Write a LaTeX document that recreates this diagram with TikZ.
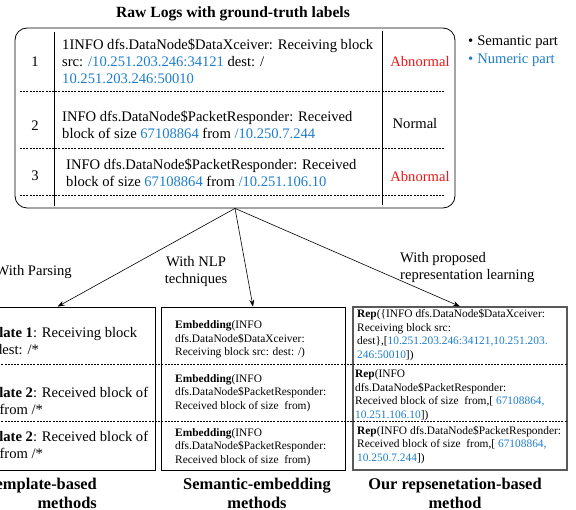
\documentclass[tikz,border=0pt]{standalone}
\usepackage{fontspec}
\setmainfont{Liberation Serif}
\usetikzlibrary{positioning,arrows.meta}
\definecolor{numblue}{RGB}{30,125,205}
\definecolor{labred}{RGB}{240,20,20}
\newcommand{\nm}[1]{\textcolor{numblue}{#1}}

\begin{document}
\begin{tikzpicture}[x=1pt,y=-1pt,
  logtxt/.style={align=left,inner sep=0pt,font=\fontsize{14.6}{17}\selectfont},
  smalltxt/.style={align=left,inner sep=0pt,font=\fontsize{11.4}{13.5}\selectfont},
  capt/.style={inner sep=0pt,font=\fontsize{16.4}{19}\selectfont\bfseries},
  panel/.style={draw,line width=0.7pt,minimum height=163pt},
  sep/.style={dash pattern=on 2pt off 1.2pt,line width=0.6pt},
  flow/.style={-{Stealth[length=7pt,width=5pt]},line width=0.6pt}]
\useasboundingbox (0,0) rectangle (576,510);
\clip (0,0) rectangle (576,510);

% raw logs table
\node[font=\fontsize{15.6}{18}\selectfont\bfseries] (title) at (233,14) {Raw Logs with ground-truth labels};
\node[draw,rounded corners=12pt,line width=0.8pt,minimum width=440pt,minimum height=180pt] (raw) at (235,118) {};
\draw[line width=0.7pt] (54,32) -- (54,206);
\draw[line width=0.7pt] (382,31) -- (382,205);
\draw[sep] (20,91) -- (445,91);
\draw[sep] (20,148) -- (445,148);
\draw[sep] (20,195) -- (445,195);
\node[logtxt] (n1) at (35,62) {1};
\node[logtxt] (n2) at (35,126) {2};
\node[logtxt] (n3) at (35,176) {3};
\node[logtxt,anchor=west] (log1) at (62,61.5) {1INFO dfs.DataNode\$DataXceiver: Receiving block\\src: \nm{/10.251.203.246:34121} dest: /\\\nm{10.251.203.246:50010}};
\node[logtxt,anchor=west] (log2) at (62,124.5) {INFO dfs.DataNode\$PacketResponder: Received\\block of size \nm{67108864} from \nm{/10.250.7.244}};
\node[logtxt,anchor=west] (log3) at (66,172.5) {INFO dfs.DataNode\$PacketResponder: Received\\block of size \nm{67108864} from \nm{/10.251.106.10}};
\node[logtxt,text=labred] (lab1) at (420,62) {Abnormal};
\node[logtxt] (lab2) at (415,124) {Normal};
\node[logtxt,text=labred] (lab3) at (420,177) {Abnormal};

% legend
\node[logtxt,anchor=west] (sem) at (468,42) {\textbullet\hspace{4pt}Semantic part};
\node[logtxt,anchor=west,text=numblue] (num) at (468,60) {\textbullet\hspace{4pt}Numeric part};

% three kinds of methods
\node[panel,minimum width=195pt] (tmpl) at (57.5,388.5) {};
\node[panel,minimum width=184pt] (emb) at (253,388.5) {};
\node[panel,draw=black!65,line width=1.1pt,minimum width=214pt] (rep) at (460,388.5) {};
\draw[sep] (-5,364) -- (567,364);
\draw[sep] (-5,421) -- (567,421);

\draw[flow] (raw.south) -- (tmpl.north);
\draw[flow] (raw.south) -- (emb.north);
\draw[flow] (raw.south) -- (rep.north);
\node[logtxt,anchor=east] (parse) at (72,272) {With Parsing};
\node[logtxt,align=center] (nlp) at (196,271.5) {With NLP\\techniques};
\node[logtxt,anchor=west] (prop) at (400,267.5) {With proposed\\representation learning};

\node[logtxt,anchor=west] (t1) at (-36,341.5) {\textbf{Template 1}: Receiving block\\\hspace*{-10pt}src: /* dest: /*};
\node[logtxt,anchor=west] (t2) at (-36,401) {\textbf{Template 2}: Received block of\\\hspace*{-6pt}size /* from /*};
\node[logtxt,anchor=west] (t3) at (-36,445) {\textbf{Template 2}: Received block of\\\hspace*{-6pt}size /* from /*};

\node[smalltxt,anchor=west] (e1) at (175,339.5) {\textbf{Embedding}(INFO\\dfs.DataNode\$DataXceiver:\\Receiving block src: dest: /)};
\node[smalltxt,anchor=west] (e2) at (175,393) {\textbf{Embedding}(INFO\\dfs.DataNode\$PacketResponder:\\Received block of size~ from)};
\node[smalltxt,anchor=west] (e3) at (175,447) {\textbf{Embedding}(INFO\\dfs.DataNode\$PacketResponder:\\Received block of size~ from)};

\node[smalltxt,anchor=west] (r1) at (357,335) {\textbf{Rep}(\{INFO dfs.DataNode\$DataXceiver:\\Receiving block src:\\dest\},[\nm{10.251.203.246:34121,10.251.203.}\\\nm{246:50010}])};
\node[smalltxt,anchor=west] (r2) at (355,395.5) {\textbf{Rep}(INFO\\dfs.DataNode\$PacketResponder:\\Received block of size~ from,[ \nm{67108864,}\\\nm{10.251.106.10}])};
\node[smalltxt,anchor=west] (r3) at (357,445) {\textbf{Rep}(INFO dfs.DataNode\$PacketResponder:\\Received block of size~ from,[ \nm{67108864,}\\\nm{10.250.7.244}])};

\node[capt,align=right,anchor=east] (c1) at (97,493.5) {Template-based\\methods};
\node[capt,align=center] (c2) at (257,493.5) {Semantic-embedding\\methods};
\node[capt,align=center] (c3) at (455,493.5) {Our repsenetation-based\\method};
\end{tikzpicture}
\end{document}
